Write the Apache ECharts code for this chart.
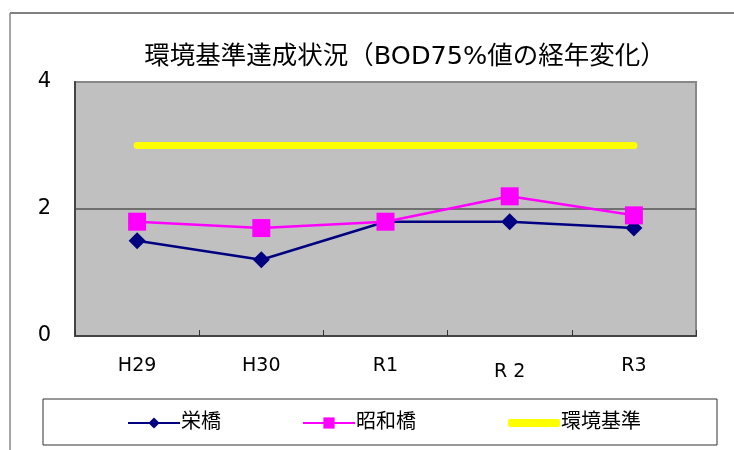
<!DOCTYPE html>
<html>
<head>
<meta charset="utf-8">
<script src="https://cdn.jsdelivr.net/npm/echarts@6/dist/echarts.min.js"></script>
<style>
    html, body { margin: 0; padding: 0; background: #fff; }
    #chart { width: 734px; height: 450px; }
</style>
</head>
<body>
<div id="chart"></div>
<script>
    // 年度
    var years = ['H29', 'H30', 'R1', 'R 2', 'R3'];
    // BOD75%値
    var sakaeBashi = [1.5, 1.2, 1.8, 1.8, 1.7];
    var showaBashi = [1.8, 1.7, 1.8, 2.2, 1.9];
    var kijun = [3, 3, 3, 3, 3];
    var seriesNames = ['栄橋', '昭和橋', '環境基準'];

    var jpFont = '"DejaVu Sans", "Noto Sans CJK JP", sans-serif';
    var chart = echarts.init(document.getElementById('chart'));

    var legendBase = function (item, left, h) {
        return {
            data: [item],
            left: left,
            top: 408,
            itemWidth: 52,
            itemHeight: h,
            itemGap: 0,
            textStyle: { fontFamily: jpFont, fontSize: 20, color: '#000', padding: [0, 0, 0, -4] }
        };
    };

    chart.setOption({
        animation: false,
        title: {
            text: '環境基準達成状況（BOD75%値の経年変化）',
            left: 400,
            textAlign: 'center',
            top: 40,
            textStyle: { fontFamily: jpFont, fontSize: 25.5, fontWeight: 'normal', color: '#000' }
        },
        legend: [
            legendBase(seriesNames[0], 122, 14),
            legendBase(seriesNames[1], 297, 14),
            legendBase({ name: seriesNames[2], icon: 'roundRect' }, 503, 8)
        ],
        grid: {
            left: 75, right: 38, top: 82, bottom: 114,
            show: true,
            backgroundColor: '#c0c0c0',
            borderColor: '#888',
            borderWidth: 2
        },
        xAxis: {
            type: 'category',
            data: years,
            boundaryGap: true,
            axisLine: { lineStyle: { color: '#444', width: 2 } },
            axisTick: { show: true, inside: true, length: 6, lineStyle: { color: '#333', width: 1 } },
            axisLabel: {
                margin: 21,
                fontFamily: jpFont,
                fontSize: 19,
                color: '#000',
                formatter: function (v) {
                    return v === 'R 2' ? '{low|' + v + '}' : v;
                },
                rich: { low: { fontFamily: jpFont, fontSize: 19, color: '#000', padding: [6, 0, 0, 0] } }
            }
        },
        yAxis: {
            type: 'value',
            min: 0,
            max: 4,
            interval: 2,
            axisLine: { show: true, lineStyle: { color: '#444', width: 2 } },
            axisTick: { show: false },
            axisLabel: { margin: 24, fontFamily: jpFont, fontSize: 21, color: '#000' },
            splitLine: { lineStyle: { color: ['#444', '#555', '#888'], width: 1.5 } }
        },
        series: [
            {
                name: seriesNames[0],
                type: 'line',
                data: sakaeBashi,
                symbol: 'diamond',
                symbolSize: 17,
                z: 3,
                lineStyle: { color: '#000080', width: 2.5 },
                itemStyle: { color: '#000080' }
            },
            {
                name: seriesNames[1],
                type: 'line',
                data: showaBashi,
                symbol: 'rect',
                symbolSize: 18,
                z: 4,
                lineStyle: { color: '#ff00ff', width: 2.5 },
                itemStyle: { color: '#ff00ff' }
            },
            {
                name: seriesNames[2],
                type: 'line',
                data: kijun,
                symbol: 'none',
                z: 2,
                lineStyle: { color: '#ffff00', width: 7, cap: 'round' },
                itemStyle: { color: '#ffff00' }
            }
        ],
        graphic: [
            { type: 'line', shape: { x1: 10, y1: 13, x2: 734, y2: 13 }, style: { stroke: '#000', lineWidth: 1 } },
            { type: 'line', shape: { x1: 10, y1: 13, x2: 10, y2: 450 }, style: { stroke: '#888', lineWidth: 1.5 } },
            { type: 'rect', shape: { x: 43, y: 399, width: 674, height: 46 }, style: { fill: 'none', stroke: '#333', lineWidth: 1 }, z: -1 }
        ]
    });
</script>
</body>
</html>
